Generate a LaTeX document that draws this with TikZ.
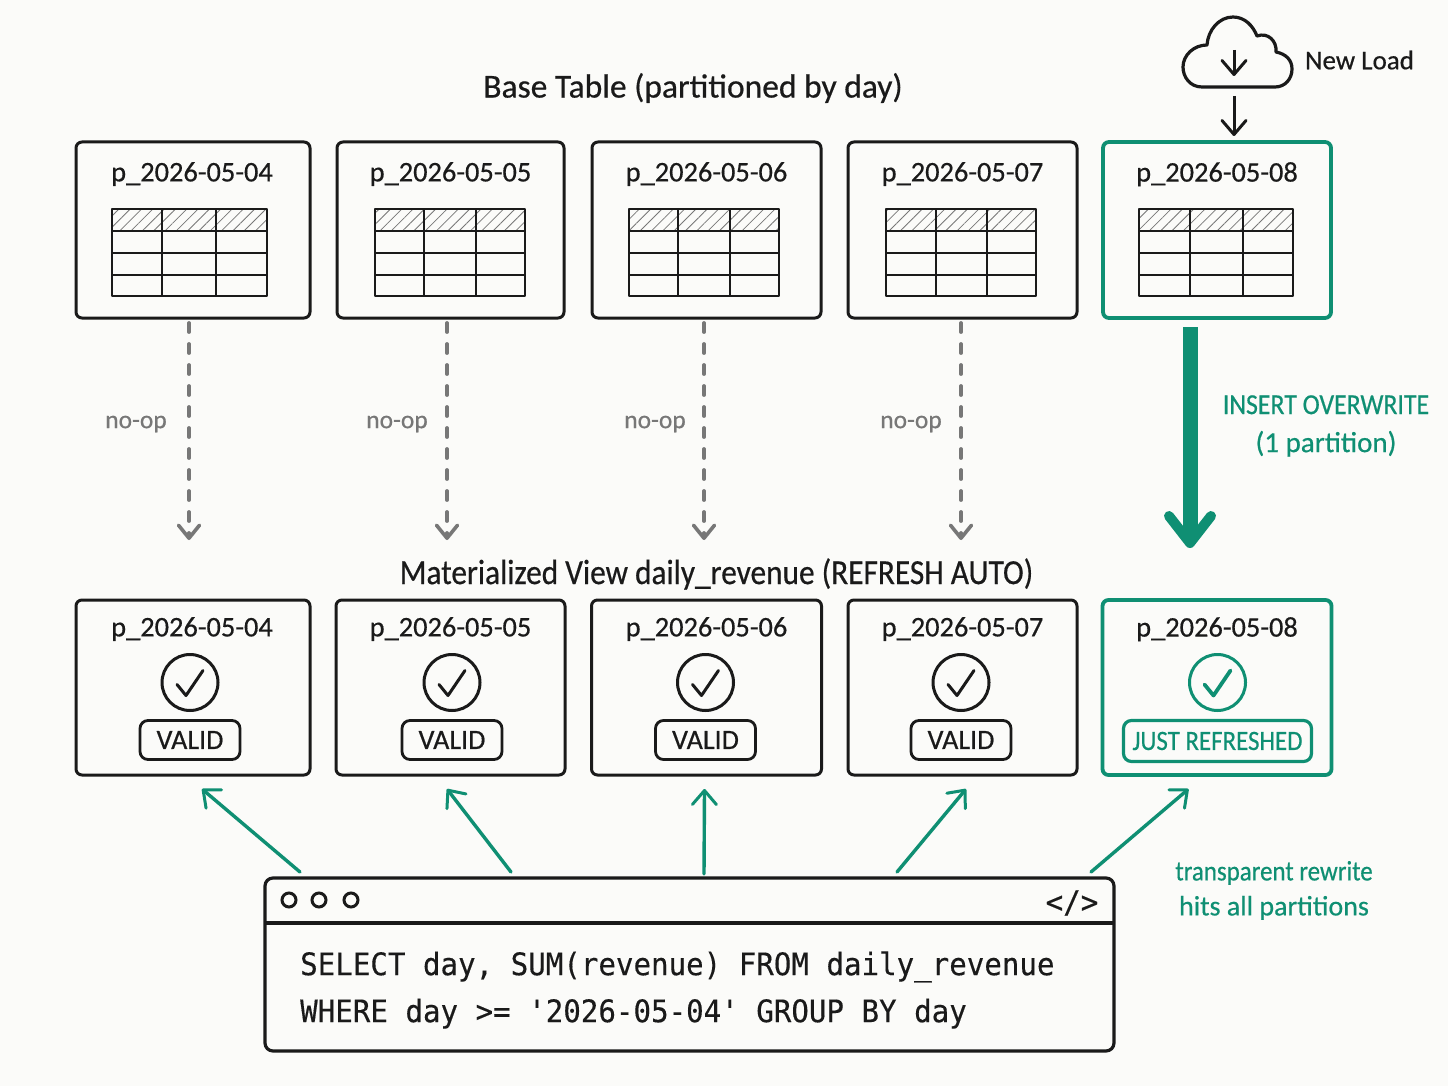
\documentclass[tikz,border=0pt]{standalone}
\usepackage{fontspec}
\setmainfont{Carlito}[FakeBold=0.5]
\newfontfamily\narrowfont{Carlito}[FakeBold=0.5,FakeStretch=0.89]
\newfontfamily\codefont{DejaVu Sans Mono}[FakeBold=0.3,FakeStretch=0.94]
\usetikzlibrary{arrows.meta,positioning,patterns.meta}

\definecolor{paper}{HTML}{FBFBF9}
\definecolor{ink}{HTML}{1A1A1A}
\definecolor{teal}{HTML}{0F8F73}
\definecolor{mute}{HTML}{777777}

% header row and grid of one partition table
\newcommand{\parttable}[4]{
    \path[pattern={Lines[angle=45,distance=8pt,line width=.8pt]}, pattern color=mute] (#1,209) rectangle (#4,231);
    \draw[line width=2.8pt, ink, line join=round] (#1,209) rectangle (#4,296);
    \draw[line width=2.6pt, ink] (#1,231) -- (#4,231) (#1,253) -- (#4,253) (#1,275) -- (#4,275);
    \draw[line width=2.6pt, ink] (#2,209) -- (#2,296) (#3,209) -- (#3,296);
}
\newcommand{\tick}[2]{
    \draw[#2, line cap=round, line join=round] ([shift={(-13pt,-2pt)}]#1.center) -- ([shift={(-4pt,-13pt)}]#1.center) -- ([shift={(13pt,12pt)}]#1.center);
}

\begin{document}
\begin{tikzpicture}[
        x=1pt, y=-1pt,
        >={Straight Barb[length=14pt,width=24pt,line width=3pt,round]},
        partbox/.style={draw=ink, line width=3pt, rounded corners=6pt, outer sep=0pt, minimum width=229pt, minimum height=176pt},
        newbox/.style={partbox, draw=teal, line width=3.8pt},
        partlabel/.style={text=ink, inner sep=0pt, font=\fontsize{28.4}{30}\selectfont},
        title/.style={text=ink, inner sep=0pt, font=\fontsize{33.5}{36}\selectfont},
        nooplabel/.style={text=mute, inner sep=0pt, font=\fontsize{25.5}{28}\selectfont},
        greenlabel/.style={text=teal, inner sep=0pt, align=center},
        noop/.style={-{Straight Barb[length=13pt,width=21pt,line width=3.6pt,round]}, mute, line width=3.8pt, line cap=round, dash pattern=on 9pt off 12pt, shorten <=5pt, shorten >=60pt},
        hit/.style={->, teal, line width=3.4pt, line cap=round},
        checkcircle/.style={draw=ink, circle, line width=3pt, outer sep=0pt, minimum size=56pt},
        badge/.style={draw=ink, line width=2.8pt, rounded corners=8pt, outer sep=0pt, inner sep=0pt, minimum width=100pt, minimum height=39pt, text=ink, font=\fontsize{28}{30}\selectfont},
        windot/.style={draw=ink, circle, line width=3pt, inner sep=0pt, outer sep=0pt, minimum size=14pt}
    ]
    \fill[paper] (0,0) rectangle (1448,1086);
    \useasboundingbox (0,0) rectangle (1448,1086);

    % Titles
    \node (basetitle)[title] at (693,88) {Base Table (partitioned by day)};
    \node (viewtitle)[title, font=\narrowfont\fontsize{35.2}{37}\selectfont] at (716.5,574) {Materialized View daily\_revenue (REFRESH AUTO)};

    % Base table partitions
    \node (a1)[partbox, minimum width=234pt] at (193,230) {};
    \node (a2)[partbox, minimum width=227pt, right=27pt of a1] {};
    \node (a3)[partbox, right=28pt of a2] {};
    \node (a4)[partbox, right=27pt of a3] {};
    \node (a5)[newbox, minimum width=228pt, right=26pt of a4] {};

    \node (alab1)[partlabel, anchor=north, below=20pt of a1.north, xshift=-1pt] {p\_2026-05-04};
    \node (alab2)[partlabel, anchor=north, below=20pt of a2.north] {p\_2026-05-05};
    \node (alab3)[partlabel, anchor=north, below=20pt of a3.north] {p\_2026-05-06};
    \node (alab4)[partlabel, anchor=north, below=20pt of a4.north] {p\_2026-05-07};
    \node (alab5)[partlabel, anchor=north, below=20pt of a5.north] {p\_2026-05-08};

    \parttable{112}{162}{216}{267}
    \parttable{375}{424}{476}{525}
    \parttable{629}{678}{730}{779}
    \parttable{886}{936}{987}{1036}
    \parttable{1139}{1190}{1243}{1293}

    % View partitions
    \node (m1)[partbox, minimum width=234pt, minimum height=175pt, below=282pt of a1] {};
    \node (m2)[partbox, minimum height=175pt, below=282pt of a2] {};
    \node (m3)[partbox, minimum width=230pt, minimum height=175pt, below=282pt of a3] {};
    \node (m4)[partbox, minimum height=175pt, below=282pt of a4] {};
    \node (m5)[newbox, minimum width=229pt, minimum height=175pt, below=282pt of a5] {};

    \node (mlab1)[partlabel, anchor=north, below=17pt of m1.north, xshift=-1pt] {p\_2026-05-04};
    \node (mlab2)[partlabel, anchor=north, below=17pt of m2.north] {p\_2026-05-05};
    \node (mlab3)[partlabel, anchor=north, below=17pt of m3.north] {p\_2026-05-06};
    \node (mlab4)[partlabel, anchor=north, below=17pt of m4.north] {p\_2026-05-07};
    \node (mlab5)[partlabel, anchor=north, below=17pt of m5.north] {p\_2026-05-08};

    \node (c1)[checkcircle] at ([shift={(-3pt,5pt)}]m1.center) {};
    \node (c2)[checkcircle] at ([shift={(1.5pt,5pt)}]m2.center) {};
    \node (c3)[checkcircle] at ([shift={(-1pt,5pt)}]m3.center) {};
    \node (c4)[checkcircle] at ([shift={(-1.5pt,5pt)}]m4.center) {};
    \node (c5)[checkcircle, draw=teal] at ([shift={(.5pt,5pt)}]m5.center) {};
    \tick{c1}{ink, line width=3pt}
    \tick{c2}{ink, line width=3pt}
    \tick{c3}{ink, line width=3pt}
    \tick{c4}{ink, line width=3pt}
    \tick{c5}{teal, line width=3.8pt}

    \node (b1)[badge, below=10pt of c1] {VALID};
    \node (b2)[badge, below=10pt of c2] {VALID};
    \node (b3)[badge, below=10pt of c3] {VALID};
    \node (b4)[badge, below=10pt of c4] {VALID};
    \node (b5)[badge, draw=teal, text=teal, line width=3.2pt, minimum width=188pt, minimum height=41pt, font=\narrowfont\fontsize{28}{30}\selectfont, below=10pt of c5] {JUST REFRESHED};

    % Cloud
    \draw[ink, line width=3.2pt, line join=round] (1202,87) .. controls (1190,87) and (1183,77) .. (1183,67)
        .. controls (1183,55) and (1194,45) .. (1207,45) .. controls (1208,30) and (1219,17) .. (1233,17)
        .. controls (1245,17) and (1253,26) .. (1257,36) .. controls (1268,32) and (1277,41) .. (1276,52)
        .. controls (1286,54) and (1292,60) .. (1292,69) .. controls (1292,79) and (1285,87) .. (1275,87) -- cycle;
    \coordinate (cloudbase) at (1234,87);
    \coordinate (cloudtop) at (1234,50);
    \coordinate (cloudtip) at (1234,76);
    \node (loadlabel)[partlabel, font=\fontsize{27}{30}\selectfont] at (1359.5,60) {New Load};

    % SQL window
    \node (sql)[draw=ink, line width=3.2pt, rounded corners=8pt, outer sep=0pt, minimum width=849pt, minimum height=173pt] at (689.5,964.5) {};
    \draw[ink, line width=3.2pt] ([yshift=41.5pt]sql.west) -- ([yshift=41.5pt]sql.east);
    \node (dot1)[windot] at ([shift={(24pt,-22pt)}]sql.north west) {};
    \node (dot2)[windot, right=16pt of dot1] {};
    \node (dot3)[windot, right=18pt of dot2] {};
    \node (codetag)[text=ink, inner sep=0pt, font=\codefont\fontsize{31}{33}\selectfont] at (1072,903) {</>};
    \node (query)[text=ink, inner sep=0pt, anchor=west, align=left, font=\codefont\fontsize{31}{47}\selectfont] at (300,990) {SELECT day, SUM(revenue) FROM daily\_revenue\\WHERE day >= '2026-05-04' GROUP BY day};

    % Side labels
    \node (noop1)[nooplabel] at (136,424) {no-op};
    \node (noop2)[nooplabel] at (397,424) {no-op};
    \node (noop3)[nooplabel] at (655,424) {no-op};
    \node (noop4)[nooplabel] at (911,424) {no-op};
    \node (overwrite)[greenlabel, font=\narrowfont\fontsize{29}{38}\selectfont] at (1326,426) {INSERT OVERWRITE\\{\fontsize{29}{38}\selectfont\rmfamily (1 partition)}};
    \node (rewrite)[greenlabel, font=\fontsize{28}{35}\selectfont] at (1274,890.5) {{\narrowfont transparent rewrite}\\hits all partitions};

    % Edges
    \draw[noop] ([xshift=-4pt]a1.south) -- ([xshift=-4pt]m1.north);
    \draw[noop] ([xshift=-3.5pt]a2.south) -- ([xshift=-3.5pt]m2.north);
    \draw[noop] ([xshift=-2.5pt]a3.south) -- ([xshift=-2.5pt]m3.north);
    \draw[noop] ([xshift=-1.5pt]a4.south) -- ([xshift=-1.5pt]m4.north);
    \draw[teal, line width=15pt, -{Straight Barb[length=27pt,width=42pt,line width=10pt,round]}, shorten <=9pt, shorten >=52pt] ([xshift=-27pt]a5.south) -- ([xshift=-27pt]m5.north);
    \draw[->, ink, line width=3pt] (cloudtop) -- (cloudtip);
    \draw[->, ink, line width=3pt, shorten <=9pt, shorten >=6pt] (cloudbase) -- ([xshift=17pt]a5.north);

    \draw[hit] ([shift={(-389.5pt,6pt)}]sql.north) -- ([shift={(9pt,-14pt)}]m1.south);
    \draw[hit] ([shift={(-178.5pt,6pt)}]sql.north) -- ([shift={(-3.5pt,-14pt)}]m2.south);
    \draw[hit] ([shift={(14.5pt,4pt)}]sql.north) -- ([shift={(-2pt,-14pt)}]m3.south);
    \draw[hit] ([shift={(207.5pt,6pt)}]sql.north) -- ([shift={(3.5pt,-14pt)}]m4.south);
    \draw[hit] ([shift={(401.5pt,6pt)}]sql.north) -- ([shift={(-28.5pt,-14pt)}]m5.south);

\end{tikzpicture}
\end{document}
